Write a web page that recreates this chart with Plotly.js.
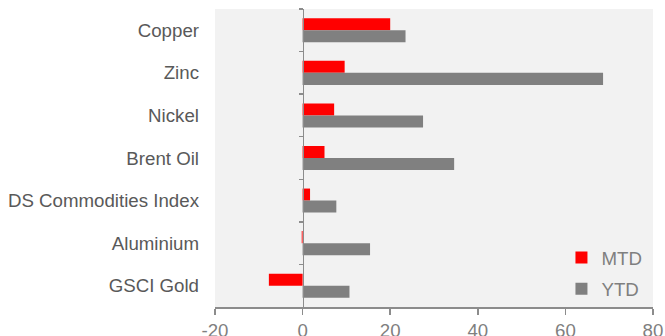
<!DOCTYPE html>
<html>
<head>
<meta charset="utf-8">
<script src="https://cdn.plot.ly/plotly-3.0.1.min.js"></script>
<style>html,body{margin:0;padding:0;background:#fff;}#chart{width:665px;height:336px;}</style>
</head>
<body>
<div id="chart"></div>
<script>
const categories = ["Copper", "Zinc", "Nickel", "Brent Oil", "DS Commodities Index", "Aluminium", "GSCI Gold"];
const mtdValues = [20.0, 9.6, 7.2, 5.0, 1.7, -0.2, -7.7];
const ytdValues = [23.5, 68.6, 27.5, 34.6, 7.7, 15.4, 10.7];
const xTicks = [-20, 0, 20, 40, 60, 80];

const font = {family: "'Liberation Sans', Arial, sans-serif", size: 18.7, color: "#7f7f7f"};

const traces = [
  {type: "bar", orientation: "h", name: "MTD", y: categories, x: mtdValues,
   marker: {color: "#ff0000"}, legendgroup: "a"},
  {type: "bar", orientation: "h", name: "YTD", y: categories, x: ytdValues,
   marker: {color: "#808080"}, legendgroup: "b"},
  {type: "scatter", mode: "none", y: categories, x: categories.map(() => null),
   yaxis: "y2", showlegend: false, hoverinfo: "skip"}
];

const layout = {
  width: 665, height: 336,
  margin: {l: 215, r: 12, t: 9, b: 29},
  paper_bgcolor: "#ffffff",
  plot_bgcolor: "#f2f2f2",
  font: font,
  barmode: "group",
  bargap: 0.435,
  bargroupgap: 0,
  showlegend: true,
  legend: {x: 0.791, y: 0.229, xanchor: "left", yanchor: "top",
           bgcolor: "rgba(0,0,0,0)", font: {size: 18.7, color: "#7f7f7f"},
           traceorder: "grouped", tracegroupgap: 4},
  xaxis: {range: [-20, 80], tickvals: xTicks, ticktext: xTicks.map(String),
          showgrid: false, zeroline: false, showline: true, linecolor: "#8c8c8c", linewidth: 1.5,
          ticks: "outside", ticklen: 6, tickwidth: 1.5, tickcolor: "#8c8c8c",
          tickfont: {size: 18.7, color: "#7f7f7f"}},
  yaxis: {type: "category", categoryorder: "array", categoryarray: categories,
          range: [6.5, -0.5], showgrid: false, zeroline: false, showline: false,
          ticks: "", ticklabelstandoff: 15, tickfont: {size: 18.7, color: "#595959"}},
  yaxis2: {type: "category", categoryorder: "array", categoryarray: categories,
           range: [6.5, -0.5], overlaying: "y", anchor: "free", position: 0.2, side: "left",
           showgrid: false, zeroline: false, showline: true, linecolor: "#8c8c8c", linewidth: 1.5,
           ticks: "outside", tickson: "boundaries", ticklen: 4, tickwidth: 1.5, tickcolor: "#8c8c8c",
           showticklabels: false}
};

Plotly.newPlot("chart", traces, layout, {displayModeBar: false, staticPlot: true});
</script>
</body>
</html>
